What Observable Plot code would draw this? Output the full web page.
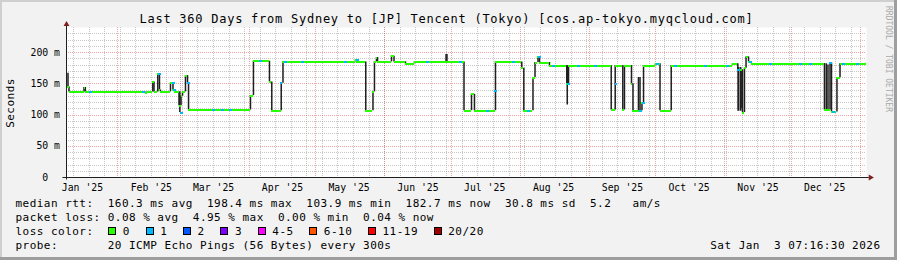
<!DOCTYPE html>
<html>
<head>
<meta charset="utf-8">
<script src="https://cdn.jsdelivr.net/npm/d3@7"></script>
<script src="https://cdn.jsdelivr.net/npm/@observablehq/plot@0.6"></script>
<style>
html, body { margin:0; padding:0; background:#f2f2f2; }
#chart { position:relative; width:897px; height:260px; background:#f2f2f2; overflow:hidden;
  font-family:"DejaVu Sans Mono", monospace; color:#000; }
#chart svg { position:absolute; left:0; top:0; }
.edge { position:absolute; }
.txt { position:absolute; white-space:pre; line-height:1; margin:0; }
#title { left:0; width:893px; text-align:center; top:13.4px; font-size:12px; letter-spacing:0.75px; }
.legend { left:15.5px; font-size:11px; letter-spacing:0.47px; }
.sw { display:inline-block; width:8px; height:8px; box-sizing:border-box; border:1px solid #000; margin-right:6.5px; margin-left:0.6px; vertical-align:baseline; }
.item { margin-right:15.2px; }
.vtext { position:absolute; white-space:pre; line-height:1; transform:translate(-50%,-50%) rotate(-90deg); }
</style>
</head>
<body>
<div id="chart"></div>
<script>
// ---------- data ----------
const title = "Last 360 Days from Sydney to [JP] Tencent (Tokyo) [cos.ap-tokyo.myqcloud.com]";
const yLabel = "Seconds";
const watermark = "RRDTOOL / TOBI OETIKER";
const windowStart = "2025-01-08T20:00Z";
const windowEnd = "2026-01-03T20:00Z";
const yMax = 240;
const yTicks = [0, 50, 100, 150, 200];
const monthStarts = ["2025-01-01","2025-02-01","2025-03-01","2025-04-01","2025-05-01","2025-06-01",
  "2025-07-01","2025-08-01","2025-09-01","2025-10-01","2025-11-01","2025-12-01","2026-01-01"];
const monthLabels = ["Jan '25","Feb '25","Mar '25","Apr '25","May '25","Jun '25",
  "Jul '25","Aug '25","Sep '25","Oct '25","Nov '25","Dec '25"];

// median rtt (ms) : value holds from this time until the next entry
const medianSteps = [
  ["2025-01-08T20:00Z",167],["2025-01-09T12:00Z",145],["2025-01-09T23:00Z",137],
  ["2025-01-16T17:00Z",144],["2025-01-17T07:00Z",137],["2025-02-13T14:00Z",135],
  ["2025-02-14T07:00Z",137],["2025-02-16T16:00Z",153],["2025-02-17T05:00Z",137],
  ["2025-02-18T22:00Z",165],["2025-02-19T16:00Z",140],["2025-02-20T03:00Z",137],
  ["2025-02-24T15:00Z",151],["2025-02-25T18:00Z",140],["2025-02-26T10:00Z",137],
  ["2025-02-28T11:00Z",115],["2025-03-01T09:00Z",130],["2025-03-02T01:00Z",137],
  ["2025-03-03T09:00Z",163],["2025-03-04T07:00Z",151],["2025-03-04T18:00Z",108],
  ["2025-04-01T15:00Z",131],["2025-04-02T23:00Z",186],["2025-04-10T04:00Z",153],
  ["2025-04-11T05:00Z",107],["2025-04-15T11:00Z",151],["2025-04-16T06:00Z",185],
  ["2025-05-18T21:00Z",188],["2025-05-19T13:00Z",185],["2025-05-23T12:00Z",107],
  ["2025-05-26T18:00Z",137],["2025-05-27T10:00Z",185],["2025-05-28T08:00Z",192],
  ["2025-05-28T19:00Z",185],["2025-06-04T02:00Z",194],["2025-06-05T05:00Z",185],
  ["2025-06-10T09:00Z",182],["2025-06-14T10:00Z",185],["2025-06-28T15:00Z",197],
  ["2025-06-29T01:00Z",185],["2025-07-06T17:00Z",107],["2025-07-10T02:00Z",133],
  ["2025-07-11T10:00Z",107],["2025-07-20T21:00Z",185],["2025-08-01T17:00Z",175],
  ["2025-08-02T15:00Z",107],["2025-08-06T18:00Z",160],["2025-08-07T16:00Z",184],
  ["2025-08-09T00:00Z",193],["2025-08-09T16:00Z",184],["2025-08-14T04:00Z",179],
  ["2025-08-21T23:00Z",150],["2025-08-22T18:00Z",179],["2025-09-10T23:00Z",108],
  ["2025-09-12T18:00Z",179],["2025-09-16T04:00Z",108],["2025-09-16T22:00Z",179],
  ["2025-09-20T02:00Z",150],["2025-09-20T18:00Z",107],["2025-09-24T19:00Z",120],
  ["2025-09-25T12:00Z",179],["2025-09-30T21:00Z",182],["2025-10-02T22:00Z",107],
  ["2025-10-07T23:00Z",179],["2025-11-04T13:00Z",182],["2025-11-06T22:00Z",172],
  ["2025-11-09T01:00Z",104],["2025-11-09T22:00Z",175],["2025-11-10T15:00Z",193],
  ["2025-11-11T18:00Z",185],["2025-11-12T23:00Z",182],["2025-12-15T22:00Z",108],
  ["2025-12-18T10:00Z",183],["2025-12-19T02:00Z",105],["2025-12-21T13:00Z",160],
  ["2025-12-22T22:00Z",182]
];
// extra smoke (ping spread) spikes: time, low, high
const smokeSpikes = [
  ["2025-02-28T20:00Z",104,137],["2025-08-22T04:00Z",116,179],
  ["2025-09-23T05:00Z",107,160],["2025-09-23T22:00Z",107,160],
  ["2025-11-08T06:00Z",106,176],["2025-11-08T18:00Z",110,172],
  ["2025-12-16T18:00Z",106,182],["2025-12-17T12:00Z",108,180]
];
// dense smoke blocks: from, to, low, high
const smokeBlocks = [
  ["2025-11-06T22:00Z","2025-11-07T22:00Z",106,176],
  ["2025-12-15T22:00Z","2025-12-16T10:00Z",106,182]
];
// short stretches where 1 of 20 pings was lost: time, median
const lossOneBits = [
  ["2025-01-19T04:00Z",137],["2025-02-12T04:00Z",137],["2025-02-19T09:00Z",165],
  ["2025-02-25T10:00Z",151],["2025-02-25T23:00Z",140],["2025-03-01T03:00Z",104],
  ["2025-03-04T10:00Z",151],["2025-03-15T13:00Z",108],["2025-03-19T11:00Z",108],
  ["2025-03-23T04:00Z",108],["2025-04-05T16:00Z",186],["2025-04-14T22:00Z",151],
  ["2025-04-16T22:00Z",185],["2025-04-24T11:00Z",185],["2025-05-13T22:00Z",185],
  ["2025-05-19T05:00Z",188],["2025-06-19T17:00Z",185],["2025-07-04T16:00Z",185],
  ["2025-07-16T17:00Z",107],["2025-07-20T10:00Z",138],["2025-07-28T16:00Z",185],
  ["2025-08-04T10:00Z",107],["2025-08-09T04:00Z",193],["2025-08-15T16:00Z",179],
  ["2025-08-22T09:00Z",150],["2025-08-26T22:00Z",179],["2025-09-03T10:00Z",179],
  ["2025-09-12T18:00Z",150],["2025-09-23T16:00Z",107],["2025-09-24T22:00Z",120],
  ["2025-10-01T12:00Z",182],["2025-10-09T10:00Z",179],["2025-10-22T22:00Z",179],
  ["2025-11-01T17:00Z",179],["2025-11-06T22:00Z",172],["2025-11-12T05:00Z",185],
  ["2025-11-21T05:00Z",182],["2025-12-04T17:00Z",182],["2025-12-09T05:00Z",182],
  ["2025-12-18T05:00Z",183],["2025-12-19T17:00Z",105],["2025-12-24T05:00Z",182],
  ["2025-12-30T05:00Z",182]
];
const lossLabels = ["0","1","2","3","4-5","6-10","11-19","20/20"];
const lossColors = ["#26ff00","#00b8ff","#0059ff","#7e00ff","#ff00ff","#ff5500","#ff0000","#a10000"];
const rttStats = ["160.3 ms avg","198.4 ms max","103.9 ms min","182.7 ms now","30.8 ms sd","5.2   am/s"];
const lossStats = ["0.08 % avg","4.95 % max","0.00 % min","0.04 % now"];
const probeText = "20 ICMP Echo Pings (56 Bytes) every 300s";
const stamp = "Sat Jan  3 07:16:30 2026";

// ---------- derived ----------
const P = d3.isoParse;
const t0 = P(windowStart), t1 = P(windowEnd);
const steps = medianSteps.map(([t, v]) => ({t: P(t), v}));
const segs = steps.map((s, i) => ({x1: s.t, x2: i + 1 < steps.length ? steps[i + 1].t : t1, y: s.v}));
const jumps = steps.slice(1).map((s, i) => ({x: s.t, y1: steps[i].v, y2: s.v}));
const spikes = smokeSpikes.map(([t, lo, hi]) => ({x: P(t), y1: lo, y2: hi}));
const blocks = smokeBlocks.map(([a, b, lo, hi]) => ({x1: P(a), x2: P(b), y1: lo, y2: hi}));
const blue = lossOneBits.map(([t, v]) => ({x1: P(t), x2: d3.utcHour.offset(P(t), 30), y: v}));
const majorY = yTicks.filter(v => v > 0);
const minorY = d3.range(10, yMax, 10).filter(v => v % 50 !== 0);
const months = monthStarts.map(P);
const monthLines = months.filter(d => d > t0 && d < t1);
const sundays = d3.utcSunday.range(t0, t1);
const labelDates = months.slice(0, monthLabels.length).map(d => d3.utcDay.offset(d, 15));
const labelOf = new Map(labelDates.map((d, i) => [+d, monthLabels[i]]));

const gridMinor = {stroke: "#8f8f8f", strokeOpacity: 0.5, strokeDasharray: "1,1", shapeRendering: "crispEdges"};
const gridMajor = {stroke: "#de4f4f", strokeOpacity: 0.5, strokeDasharray: "1,1", shapeRendering: "crispEdges"};

const svg = Plot.plot({
  width: 897, height: 260,
  marginLeft: 66, marginRight: 31, marginTop: 27, marginBottom: 83,
  x: {type: "utc", domain: [t0, t1]},
  y: {domain: [0, yMax]},
  style: {background: "transparent", fontFamily: "'DejaVu Sans Mono', monospace", fontSize: "9.8px", color: "#000", overflow: "visible"},
  marks: [
    Plot.frame({fill: "#ffffff", stroke: "none"}),
    Plot.ruleY(minorY, gridMinor),
    Plot.ruleX(sundays, gridMinor),
    Plot.ruleY(majorY, gridMajor),
    Plot.ruleX(monthLines, gridMajor),
    // smoke
    Plot.rect(blocks, {x1: "x1", x2: "x2", y1: "y1", y2: "y2", fill: "#1f1f1f"}),
    Plot.ruleX(jumps, {x: "x", y1: "y1", y2: "y2", stroke: "#1f1f1f", strokeWidth: 1.5}),
    Plot.ruleX(spikes, {x: "x", y1: "y1", y2: "y2", stroke: "#1f1f1f", strokeWidth: 1.5}),
    // median coloured by loss
    Plot.ruleY(segs, {x1: "x1", x2: "x2", y: "y", stroke: lossColors[0], strokeWidth: 2, shapeRendering: "crispEdges"}),
    Plot.ruleY(blue, {x1: "x1", x2: "x2", y: "y", stroke: lossColors[1], strokeWidth: 2, shapeRendering: "crispEdges"}),
    // axes
    Plot.ruleX([t0], {y1: -4, y2: 242, stroke: "#1f1f1f"}),
    Plot.ruleY([0], {x1: d3.utcHour.offset(t0, -38), x2: d3.utcHour.offset(t1, 30), stroke: "#1f1f1f"}),
    Plot.dot([0], {x: d3.utcHour.offset(t1, 43), y: 0, symbol: "triangle", rotate: 90, r: 2.2, fill: "#801f1f", stroke: "none"}),
    Plot.dot([0], {x: t0, y: 245, symbol: "triangle", r: 2.2, fill: "#801f1f", stroke: "none"}),
    Plot.axisY({ticks: yTicks, tickSize: 0, tickPadding: 6.5, label: null,
      tickFormat: d => d === 0 ? "0\u00a0\u00a0" : `${d} m`}),
    Plot.axisX({ticks: labelDates, tickSize: 0, tickPadding: 6.5, label: null,
      tickFormat: d => labelOf.get(+d)})
  ]
});

// ---------- page ----------
const chart = document.getElementById("chart");
function el(tag, cls, text, css) {
  const e = document.createElement(tag);
  if (cls) e.className = cls;
  if (text != null) e.textContent = text;
  if (css) Object.assign(e.style, css);
  chart.appendChild(e);
  return e;
}
el("div", "edge", null, {left: "0", top: "0", width: "897px", height: "2px", background: "#cfcfcf"});
el("div", "edge", null, {left: "0", top: "0", width: "2px", height: "260px", background: "#cfcfcf"});
el("div", "edge", null, {left: "0", top: "257px", width: "897px", height: "3px", background: "#9e9e9e"});
el("div", "edge", null, {left: "894px", top: "0", width: "3px", height: "260px", background: "#9e9e9e"});
chart.appendChild(svg);
el("div", "txt", title).id = "title";
el("div", "vtext", yLabel, {left: "10.3px", top: "102.5px", fontSize: "11px", letterSpacing: "0.47px"});
const wm = el("div", "vtext", watermark, {left: "888px", top: "58.5px", fontSize: "8px", color: "#a9a9a9"});
wm.style.transform = "translate(-50%,-50%) rotate(90deg)";

el("div", "txt legend", "median rtt:  " + rttStats.join("  "), {top: "198.4px"});
el("div", "txt legend", "packet loss: " + lossStats.join("  "), {top: "212.4px"});
const lc = el("div", "txt legend", "loss color:  ", {top: "226.4px"});
lossLabels.forEach((lab, i) => {
  const item = document.createElement("span");
  item.className = "item";
  const sw = document.createElement("span");
  sw.className = "sw";
  sw.style.background = lossColors[i];
  item.appendChild(sw);
  item.appendChild(document.createTextNode(lab));
  lc.appendChild(item);
});
el("div", "txt legend", "probe:       " + probeText, {top: "240.4px"});
el("div", "txt legend", stamp, {top: "240.4px", left: "auto", right: "16.5px"});
</script>
</body>
</html>
